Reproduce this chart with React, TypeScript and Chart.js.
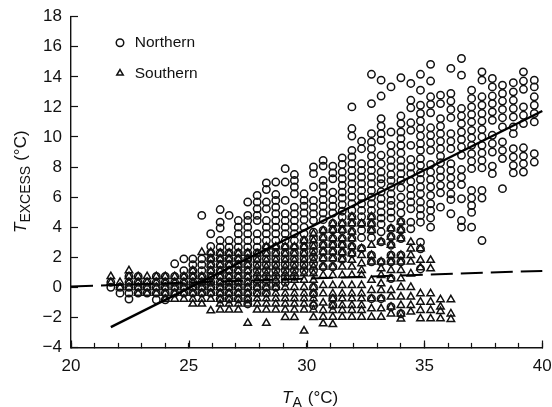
import React, { useEffect, useRef } from "react";
import { Chart, registerables } from "chart.js";

Chart.register(...registerables);

const northernX = [21.69,22.08,22.46,22.85,23.23,23.62,24.0,24.4,24.79,25.17,25.55,25.93,26.33,26.71,27.1,27.5,27.9,28.29,28.69,29.09,29.48,29.89,30.29,30.7,31.11,31.51,31.92,32.33,32.75,33.16,33.58,34.0,34.42,34.83,35.26,35.68,36.12,36.57,37.0,37.44,37.88,38.31,38.77,39.2,39.66];
const northernY = [
  [0.33,0],
  [0,-0.39],
  [0.72,0.33,0,-0.39,-0.78],
  [0.72,0.33,0,-0.39],
  [0.33,0,-0.39],
  [0.72,0.33,0,-0.39,-0.83],
  [0.72,0.33,0,-0.39,-0.83],
  [1.56,0.72,0.33,0,-0.39],
  [1.89,1.11,0.72,0.33,0,-0.39],
  [1.89,1.5,1.11,0.72,0.33,0,-0.39],
  [4.78,1.89,1.5,1.11,0.72,0.33,0,-0.39],
  [3.56,2.72,2.28,1.89,1.5,1.11,0.72,0.33,0,-0.39],
  [5.17,4.33,3.94,3.11,2.67,2.28,1.89,1.5,1.11,0.72,0.33,0,-0.39,-0.78],
  [4.78,3.11,2.67,2.28,1.89,1.5,1.11,0.72,0.33,0,-0.39,-0.78],
  [4.44,4,3.56,3.11,2.67,2.28,1.89,1.5,1.11,0.72,0.33,0,-0.39,-0.78],
  [5.67,4.78,4.44,4,3.56,3.11,2.67,2.28,1.89,1.5,1.11,0.72,0.33,0,-0.39,-0.78,-1.11],
  [6.11,5.67,5.22,4.78,4.44,3.56,3.11,2.67,2.28,1.89,1.5,1.11,0.72,0.33,0,-0.39],
  [6.94,6.5,5.67,5.22,4.44,4,3.56,3.11,2.67,2.28,1.89,1.5,1.11,0.72,0.33,0,-0.39],
  [7,6.17,5.78,5.33,4.89,4.44,4,3.56,3.11,2.67,2.28,1.89,1.5,1.11,0.72,0.33,0],
  [7.89,7,5.78,4.89,4.44,4,3.56,3.11,2.67,2.28,1.89,1.5,1.11,0.72,0.33],
  [7.5,7.11,6.67,6.22,5.33,4.89,4.44,4,3.56,3.11,2.67,2.28,1.89,1.5,1.11,0.72],
  [6.22,5.78,5.39,4.94,4.5,4,3.56,3.11,2.67,2.28,1.89,1.5,1.11],
  [8,7.56,6.67,5.78,5.33,4.89,4.44,3.67,3.22,2.78,2.39,2,1.56,1.11,0,-0.44,-1.22],
  [8.44,8.06,7.11,6.72,6.28,5.83,5.39,4.94,4.5,3.78,3.29,2.8,2.36,1.91,1.36],
  [8.06,7.61,7.22,6.33,5.83,5.39,4.94,4.24,3.8,3.24,2.8,2.36,1.91,1.36,-0.76,-1.2],
  [8.61,8.17,7.67,7.22,6.78,6.33,5.94,5.5,5.06,4.67,4.24,3.78,3.24,2.8,2.3,1.86],
  [12,10.56,10.06,9.11,8.67,8.22,7.78,7.33,6.89,6.44,6,5.56,5.11,4.69,4.24,3.69,3.24,2.7,2.24],
  [9.72,9.22,8.22,7.78,7.33,6.89,6.44,6,5.56,5.11,4.69,4.24,3.8,3.3,2.58],
  [14.17,12.22,10.22,9.67,9.22,8.72,8.22,7.78,7.33,6.89,6.44,6,5.56,5.11,4.69,4.22,3.78,3.3,2.13,1.69,-0.76],
  [13.78,12.72,11.22,10.72,10.22,9.78,8.78,8.22,7.67,7.22,6.89,6.35,5.9,5.47,5,4.6,4.2,3.69,3.02,1.69,-0.76],
  [13.33,10.33,9.44,8.94,8.44,8,7.5,7.11,6.67,6.22,5.78,5.44,5,4.6,3.9,3.36,2.8,2.13,1.69,0.58,-1.31],
  [13.94,11.39,10.89,10.33,9.89,9.44,8.94,8.44,8,7.56,7.11,6.61,6,5.44,4.94,4.36,3.8,3.24,2.13,1.69,-1.76],
  [13.56,12.44,11.94,10.94,10.44,9.44,8.5,8,7.56,7.06,6.56,6.11,5.67,5.22,4.33,3.89],
  [14.17,13.11,12.11,11.56,11.06,10.56,10.06,9.56,9.11,8.56,8.11,7.61,7.17,6.67,6.22,5.67,5.22,4.78,4.33,3,2.56,1.22],
  [14.83,13.72,12.67,12.17,11.61,10.61,10.11,9.61,9.11,8.17,7.67,7.17,6.67,6.11,5.56,5.11,4.61,4],
  [12.78,12.22,11.22,10.72,10.22,9.72,9.22,8.72,8.28,7.78,7.33,6.78,6.28,5.33],
  [14.56,12.89,12.39,11.83,11.28,10.22,9.72,9.22,8.22,7.78,7.28,6.78,6.22,5.83,4.89],
  [15.22,14.11,11.89,11.39,10.89,10.33,9.83,9.33,8.78,7.83,7.33,6.83,5.89,4.44,4],
  [13.11,12.56,12,11.5,11,10.44,9.94,9.44,8.89,8.39,7.89,6.44,5.94,5.44,4.98,4],
  [14.33,13.78,12.67,12.11,11.56,11.06,10.5,10,9.44,8.94,8.44,7.94,6.44,5.94,3.11],
  [13.89,13.33,12.72,12.22,11.67,11.11,10.11,9.56,9,8.06,7.56],
  [13.44,12.89,12.39,11.83,11.28,10.67,9.67,9.11,8.56,6.56],
  [13.61,13,12.44,11.89,11.33,10.67,10.22,9.22,8.67,8.11,7.61],
  [14.33,13.72,13.17,12,11.44,10.89,9.28,8.72,8.22,7.67],
  [13.78,13.33,12.67,12.11,11.56,11,8.89,8.33],
];

const southernX = [21.69,22.08,22.46,22.85,23.23,23.62,24.0,24.4,24.79,25.17,25.55,25.93,26.33,26.71,27.1,27.5,27.9,28.29,28.69,29.09,29.48,29.89,30.29,30.7,31.11,31.51,31.92,32.33,32.75,33.16,33.58,34.0,34.42,34.83,35.26,35.68,36.12];
const southernY = [
  [0.72,0.33],
  [0.33,0],
  [1.11,0.72,0.33,0],
  [0.72,0.33,0,-0.39],
  [0.72,0.33,0,-0.39],
  [0.72,0.33,0,-0.39],
  [0.72,0.33,0,-0.39,-0.78],
  [0.72,0.33,0,-0.39,-0.78],
  [0.72,0.33,0,-0.39,-0.78],
  [1.11,0.72,0.33,0,-0.39,-0.78,-1.11],
  [2.33,0.72,0.33,0,-0.39,-0.78,-1.11],
  [2.33,1.89,1.5,1.11,0.72,0.33,0,-0.39,-0.78,-1.56],
  [2.28,1.89,1.5,1.11,0.72,0.33,0,-0.39,-0.78,-1.11,-1.5],
  [2.28,1.89,1.5,1.11,0.72,0.33,0,-0.39,-0.78,-1.11,-1.5],
  [2.28,1.89,1.5,1.11,0.72,0.33,0,-0.39,-0.78,-1.11,-1.5],
  [2.28,1.89,1.5,1.11,0.72,0.33,0,-0.39,-0.78,-1.11,-2.39],
  [2.24,1.8,1.36,0.91,0.47,0,-0.42,-0.76,-1.11,-1.5],
  [2.7,2.24,1.8,1.36,0.91,0.47,0,-0.42,-0.76,-1.11,-1.5,-2.39],
  [2.7,2.24,1.8,1.36,0.91,0.47,0,-0.42,-0.76,-1.11,-1.5],
  [2.7,2.24,1.8,1.36,0.91,0.47,0,-0.42,-0.76,-1.11,-1.5,-2],
  [2.7,2.24,1.8,1.36,0.91,0.47,0,-0.42,-0.76,-1.11,-1.5,-2],
  [3.1,2.7,2.24,1.8,1.36,0.91,0.47,0,-0.42,-0.76,-1.11,-1.5,-2.9],
  [3.56,3.1,2.7,2.24,1.8,1.36,0.91,0.47,0,-0.42,-0.76,-1.11,-1.5,-2],
  [3.78,3.29,2.8,2.36,1.91,1.36,0.8,0.13,-0.42,-1.04,-1.53,-1.98,-2.42],
  [4.24,3.8,3.24,2.8,2.36,1.91,1.36,0.8,0.13,-0.42,-0.76,-1.2,-1.53,-1.98,-2.47],
  [4.24,3.8,3.24,2.8,2.3,1.86,1.36,0.8,0.13,-0.42,-0.76,-1.2,-1.53,-1.98],
  [4.69,4.24,3.69,3.24,2.7,2.24,1.8,1.36,0.8,0.13,-0.42,-0.76,-1.2,-1.53,-1.98],
  [4.24,2.58,2.13,1.58,1.13,0.8,0.13,-0.42,-0.76,-1.2,-1.53,-1.98],
  [4.69,4.22,3.78,2.8,2.13,1.69,0.47,-0.2,-0.76,-1.42,-1.98],
  [3.02,1.69,1.24,0.8,0.24,-0.2,-0.76,-1.42,-1.98],
  [3.9,3.36,2.8,2.13,1.69,1.13,0.58,-0.2,-0.64,-1.31,-1.76],
  [4.36,3.8,3.24,2.13,1.69,1.13,0.58,0,-0.64,-1.2,-1.76,-2.1],
  [3,2.56,2.13,1.69,0.9,0,-0.64,-1.2,-1.64],
  [2.58,1.8,1.31,-0.42,-0.98,-1.53,-2.09],
  [1.8,1.24,-0.42,-0.98,-1.53,-2.09],
  [-0.82,-1.31,-1.6,-2.09],
  [-0.82,-1.76,-2.13],
];

const northernFitX = [21.69, 40];
const northernFitY = [-2.65, 11.73];
const southernFitX = [20, 40];
const southernFitY = [0.05, 1.09];

const xTicks = [20, 25, 30, 35, 40];
const INK = "#111";
const FONT = '"Liberation Sans", Arial, sans-serif';

type Seg = { t: string; size: number; italic?: boolean; dy?: number; gap?: number };

function drawRich(ctx: CanvasRenderingContext2D, segs: Seg[]) {
  let x = 0;
  for (const s of segs) {
    ctx.font = `${s.italic ? "italic " : ""}${s.size}px ${FONT}`;
    ctx.fillText(s.t, x, s.dy || 0);
    x += ctx.measureText(s.t).width + (s.gap || 0);
  }
}

const noPadding = (s: any) => {
  s.paddingLeft = 0;
  s.paddingRight = 0;
  s.paddingTop = 0;
  s.paddingBottom = 0;
};

const layoutPlugin = {
  id: "figureExtras",
  beforeDraw(chart: any) {
    chart.legend.left = 98;
    chart.legend.top = 20;
  },
  afterDraw(chart: any) {
    const ctx: CanvasRenderingContext2D = chart.ctx;
    const xs = chart.scales.x;
    ctx.save();
    ctx.strokeStyle = INK;
    ctx.lineWidth = 1.2;
    ctx.beginPath();
    for (const v of xTicks) {
      const px = Math.round(xs.getPixelForValue(v)) + 0.5;
      ctx.moveTo(px, xs.top);
      ctx.lineTo(px, xs.top - 7);
    }
    ctx.stroke();
    ctx.fillStyle = INK;
    ctx.textBaseline = "alphabetic";
    ctx.textAlign = "left";
    ctx.save();
    ctx.translate(282, 403);
    drawRich(ctx, [
      { t: "T", size: 17, italic: true },
      { t: "A", size: 14, dy: 4, gap: 6 },
      { t: "(°C)", size: 17 },
    ]);
    ctx.restore();
    ctx.save();
    ctx.translate(26, 233);
    ctx.rotate(-Math.PI / 2);
    drawRich(ctx, [
      { t: "T", size: 17, italic: true },
      { t: "EXCESS", size: 14, dy: 4, gap: 5 },
      { t: "(°C)", size: 17 },
    ]);
    ctx.restore();
    ctx.restore();
  },
};

export default function App() {
  const ref = useRef<HTMLCanvasElement>(null);
  useEffect(() => {
    const northern = northernX.flatMap((x, i) => northernY[i].map((y) => ({ x, y })));
    const southern = southernX.flatMap((x, i) => southernY[i].map((y) => ({ x, y })));
    const chart = new Chart(ref.current!, {
      type: "scatter",
      data: {
        datasets: [
          {
            label: "Northern",
            data: northern,
            pointStyle: "circle",
            pointRadius: 3.7,
            pointBorderWidth: 1.5,
            borderWidth: 1.5,
            borderColor: INK,
            backgroundColor: "transparent",
            order: 3,
          },
          {
            label: "Southern",
            data: southern,
            pointStyle: "triangle",
            pointRadius: 4.3,
            pointBorderWidth: 1.5,
            borderWidth: 1.5,
            borderColor: INK,
            backgroundColor: "transparent",
            order: 2,
          },
          {
            label: "Northern fit",
            data: northernFitX.map((x, i) => ({ x, y: northernFitY[i] })),
            showLine: true,
            pointRadius: 0,
            borderColor: "#000",
            borderWidth: 2.4,
            order: 1,
            clip: false,
          },
          {
            label: "Southern fit",
            data: southernFitX.map((x, i) => ({ x, y: southernFitY[i] })),
            showLine: true,
            pointRadius: 0,
            borderColor: "#000",
            borderWidth: 2,
            borderDash: [22, 8],
            order: 0,
            clip: false,
          },
        ],
      } as any,
      plugins: [layoutPlugin],
      options: {
        responsive: false,
        animation: false,
        events: [],
        layout: { autoPadding: false, padding: { left: 0, top: 16.7, right: 9.7, bottom: 0 } },
        plugins: {
          tooltip: { enabled: false },
          legend: {
            position: "chartArea",
            align: "start",
            labels: {
              usePointStyle: true,
              boxWidth: 14,
              boxHeight: 5.3,
              padding: 15,
              color: INK,
              font: { family: FONT, size: 15.5 },
              filter: (item: any) => !item.text.includes("fit"),
              sort: (a: any, b: any) => a.datasetIndex - b.datasetIndex,
            },
          },
        } as any,
        scales: {
          x: {
            type: "linear",
            min: 20,
            max: 40,
            afterFit: (s: any) => { s.height = 407 - 347.4; noPadding(s); },
            grid: { drawOnChartArea: false, tickLength: -4.5, tickWidth: 1.2, tickColor: INK },
            border: { color: INK, width: 1.4 },
            ticks: {
              stepSize: 1,
              autoSkip: false,
              maxRotation: 0,
              padding: 13,
              color: INK,
              font: { family: FONT, size: 17 },
              callback: (v: any) => (xTicks.includes(v) ? String(v) : ""),
            },
          },
          y: {
            type: "linear",
            min: -4,
            max: 18,
            afterFit: (s: any) => { s.width = 71; noPadding(s); },
            grid: { drawOnChartArea: false, tickLength: -7, tickWidth: 1.2, tickColor: INK },
            border: { color: INK, width: 1.4 },
            ticks: {
              stepSize: 2,
              padding: 16,
              color: INK,
              font: { family: FONT, size: 17 },
              callback: (v: any) => String(v).replace("-", "\u2212"),
            },
          },
        },
      } as any,
    });
    return () => chart.destroy();
  }, []);
  return (
    <canvas
      ref={ref}
      width={552}
      height={407}
      style={{ position: "absolute", left: 0, top: 0, display: "block" }}
    />
  );
}
